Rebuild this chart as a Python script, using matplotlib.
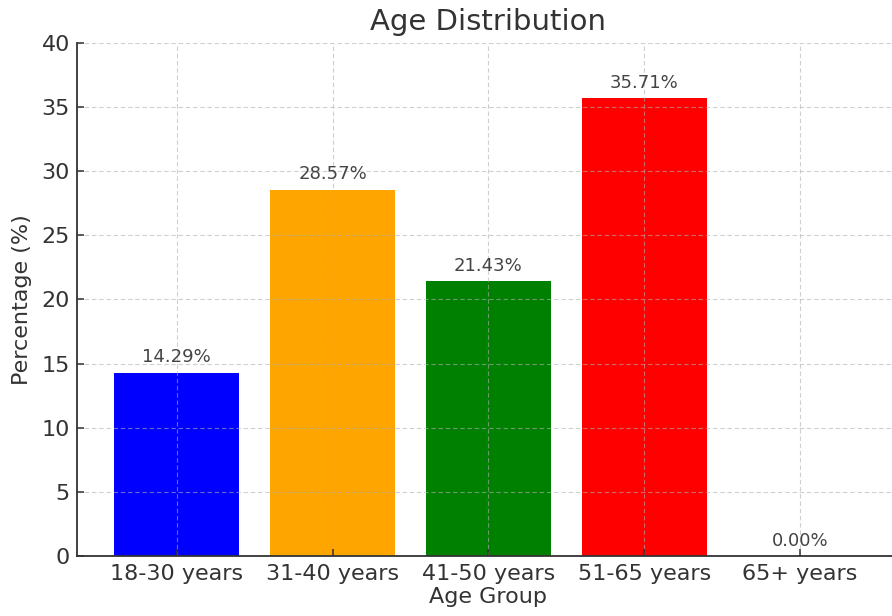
import matplotlib
matplotlib.use("Agg")
import matplotlib.pyplot as plt

age_groups = ["18-30 years", "31-40 years", "41-50 years", "51-65 years", "65+ years"]
percentages = [14.29, 28.57, 21.43, 35.71, 0.00]
bar_colors = ["blue", "orange", "green", "red", "purple"]

text_color = "#333333"

fig = plt.figure(figsize=(8.92, 6.16), dpi=100)
ax = fig.add_axes([0.0863, 0.0974, 0.9226, 0.8328])

bars = ax.bar(age_groups, percentages, color=bar_colors, width=0.8)

for bar, value in zip(bars, percentages):
    ax.text(bar.get_x() + bar.get_width() / 2, value + 0.5, f"{value:.2f}%",
            ha="center", va="bottom", fontsize=13, color="#444444")

ax.set_ylim(0, 40)
ax.set_title("Age Distribution", fontsize=21, color=text_color, pad=9)
ax.set_xlabel("Age Group", fontsize=16, color=text_color, labelpad=2)
ax.set_ylabel("Percentage (%)", fontsize=16, color=text_color, labelpad=7)

ax.grid(True, linestyle="--", alpha=0.6, linewidth=0.8, color="#b0b0b0",
        dashes=(4, 2.5))
ax.tick_params(axis="both", direction="in", length=4.7, width=1.1,
               labelsize=16, colors=text_color, pad=5)
ax.tick_params(axis="x", pad=6)

for side in ("top", "right"):
    ax.spines[side].set_visible(False)
for side in ("left", "bottom"):
    ax.spines[side].set_color(text_color)
    ax.spines[side].set_linewidth(1.3)

fig.savefig("out.png", dpi=100)
